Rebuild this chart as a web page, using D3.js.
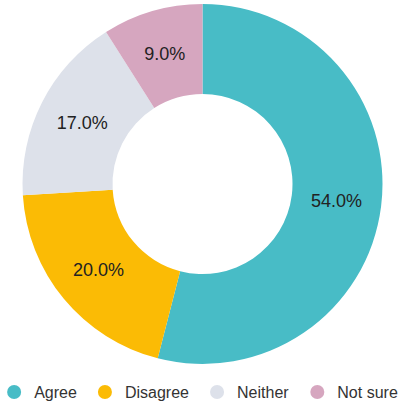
<!DOCTYPE html>
<html>
<head>
<meta charset="utf-8">
<script src="https://cdn.jsdelivr.net/npm/d3@7"></script>
<style>
  html, body { margin: 0; padding: 0; background: #fff; }
  svg { display: block; font-family: "Liberation Sans", Arial, sans-serif; }
</style>
</head>
<body>
<svg id="chart" width="400" height="402"></svg>
<script>
// Survey responses (percent of respondents)
const categories = ["Agree", "Disagree", "Neither", "Not sure"];
const values = [54.0, 20.0, 17.0, 9.0];
const colors = ["#48bcc6", "#fbbb05", "#dde1ea", "#d6a6bf"];

const svg = d3.select("#chart");
const cx = 202.5, cy = 184;
const outerR = 180, innerR = 90;

const color = d3.scaleOrdinal().domain(categories).range(colors);

const pie = d3.pie().sort(null).value(d => d.value);
const arcs = pie(categories.map((c, i) => ({ name: c, value: values[i] })));

const arc = d3.arc().innerRadius(innerR).outerRadius(outerR);
const labelArc = d3.arc().innerRadius((innerR + outerR) / 2).outerRadius((innerR + outerR) / 2);

const g = svg.append("g").attr("transform", `translate(${cx},${cy})`);

g.selectAll("path")
  .data(arcs)
  .join("path")
  .attr("d", arc)
  .attr("fill", d => color(d.data.name));

g.selectAll("text")
  .data(arcs)
  .join("text")
  .attr("transform", d => `translate(${labelArc.centroid(d)})`)
  .attr("text-anchor", "middle")
  .attr("dominant-baseline", "central")
  .attr("font-size", 18)
  .attr("fill", "#222")
  .text(d => d.data.value.toFixed(1) + "%");

// Legend along the bottom, centred under the donut
const legend = svg.append("g").attr("transform", "translate(0,392)");
const items = legend.selectAll("g")
  .data(categories)
  .join("g");

items.append("circle")
  .attr("r", 7)
  .attr("cx", 7)
  .attr("fill", d => color(d));

items.append("text")
  .attr("x", 27)
  .attr("dominant-baseline", "central")
  .attr("font-size", 16)
  .attr("fill", "#333")
  .text(d => d);

let x = 0;
const gap = 21;
items.each(function () {
  const w = this.getBBox().width;
  d3.select(this).attr("data-w", w);
});
const widths = items.nodes().map(n => n.getBBox().width);
const total = d3.sum(widths) + gap * (widths.length - 1);
x = cx - total / 2;
items.each(function (d, i) {
  d3.select(this).attr("transform", `translate(${x},0)`);
  x += widths[i] + gap;
});
</script>
</body>
</html>
